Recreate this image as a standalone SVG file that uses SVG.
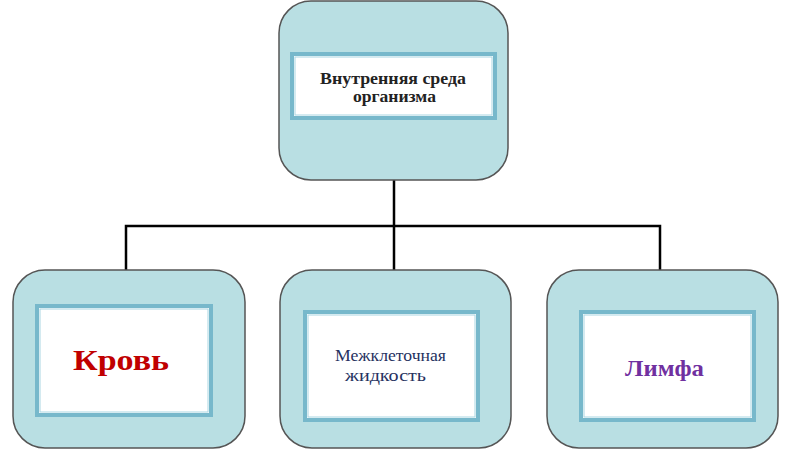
<svg xmlns="http://www.w3.org/2000/svg" width="800" height="450" viewBox="0 0 800 450">
<style>
.outer{fill:#b9dfe3;stroke:#555;stroke-width:1.5}
.inner{fill:#fff;stroke:#77b8cb;stroke-width:4}
.inner2{fill:none;stroke:#a9d6e2;stroke-width:1}
.conn{fill:none;stroke:#000;stroke-width:2.5}
text{font-family:"Liberation Serif","DejaVu Serif",serif}
</style>
<rect width="800" height="450" fill="#fff"/>
<g id="connectors">
<path class="conn" d="M394 180V270M126 270V226H660V270"/>
</g>
<g id="root">
<rect class="outer" x="279" y="1" width="229" height="179" rx="32"/>
<rect class="inner" x="292" y="54" width="203" height="64"/>
<rect class="inner2" x="295" y="57" width="197" height="58"/>
<text x="320" y="84" font-size="17" font-weight="bold" fill="#222" textLength="146" lengthAdjust="spacingAndGlyphs">Внутренняя среда</text>
<text x="353" y="102" font-size="17" font-weight="bold" fill="#222" textLength="83" lengthAdjust="spacingAndGlyphs">организма</text>
</g>
<g id="blood">
<rect class="outer" x="13" y="270" width="232" height="178" rx="32"/>
<rect class="inner" x="37" y="306" width="174" height="109"/>
<rect class="inner2" x="40" y="309" width="168" height="103"/>
<text x="73" y="370" font-size="30" font-weight="bold" fill="#c00000" textLength="96" lengthAdjust="spacingAndGlyphs">Кровь</text>
</g>
<g id="tissue">
<rect class="outer" x="280" y="270" width="231" height="178" rx="32"/>
<rect class="inner" x="305" y="312" width="173" height="108"/>
<rect class="inner2" x="308" y="315" width="167" height="102"/>
<text x="335" y="361" font-size="16" fill="#26325f" textLength="111" lengthAdjust="spacingAndGlyphs">Межклеточная</text>
<text x="345" y="381" font-size="16" fill="#26325f" textLength="81" lengthAdjust="spacingAndGlyphs">жидкость</text>
</g>
<g id="lymph">
<rect class="outer" x="547" y="270" width="231" height="178" rx="32"/>
<rect class="inner" x="581" y="312" width="173" height="108"/>
<rect class="inner2" x="584" y="315" width="167" height="102"/>
<text x="625" y="376" font-size="23" font-weight="bold" fill="#7030a0" textLength="79" lengthAdjust="spacingAndGlyphs">Лимфа</text>
</g>
</svg>
